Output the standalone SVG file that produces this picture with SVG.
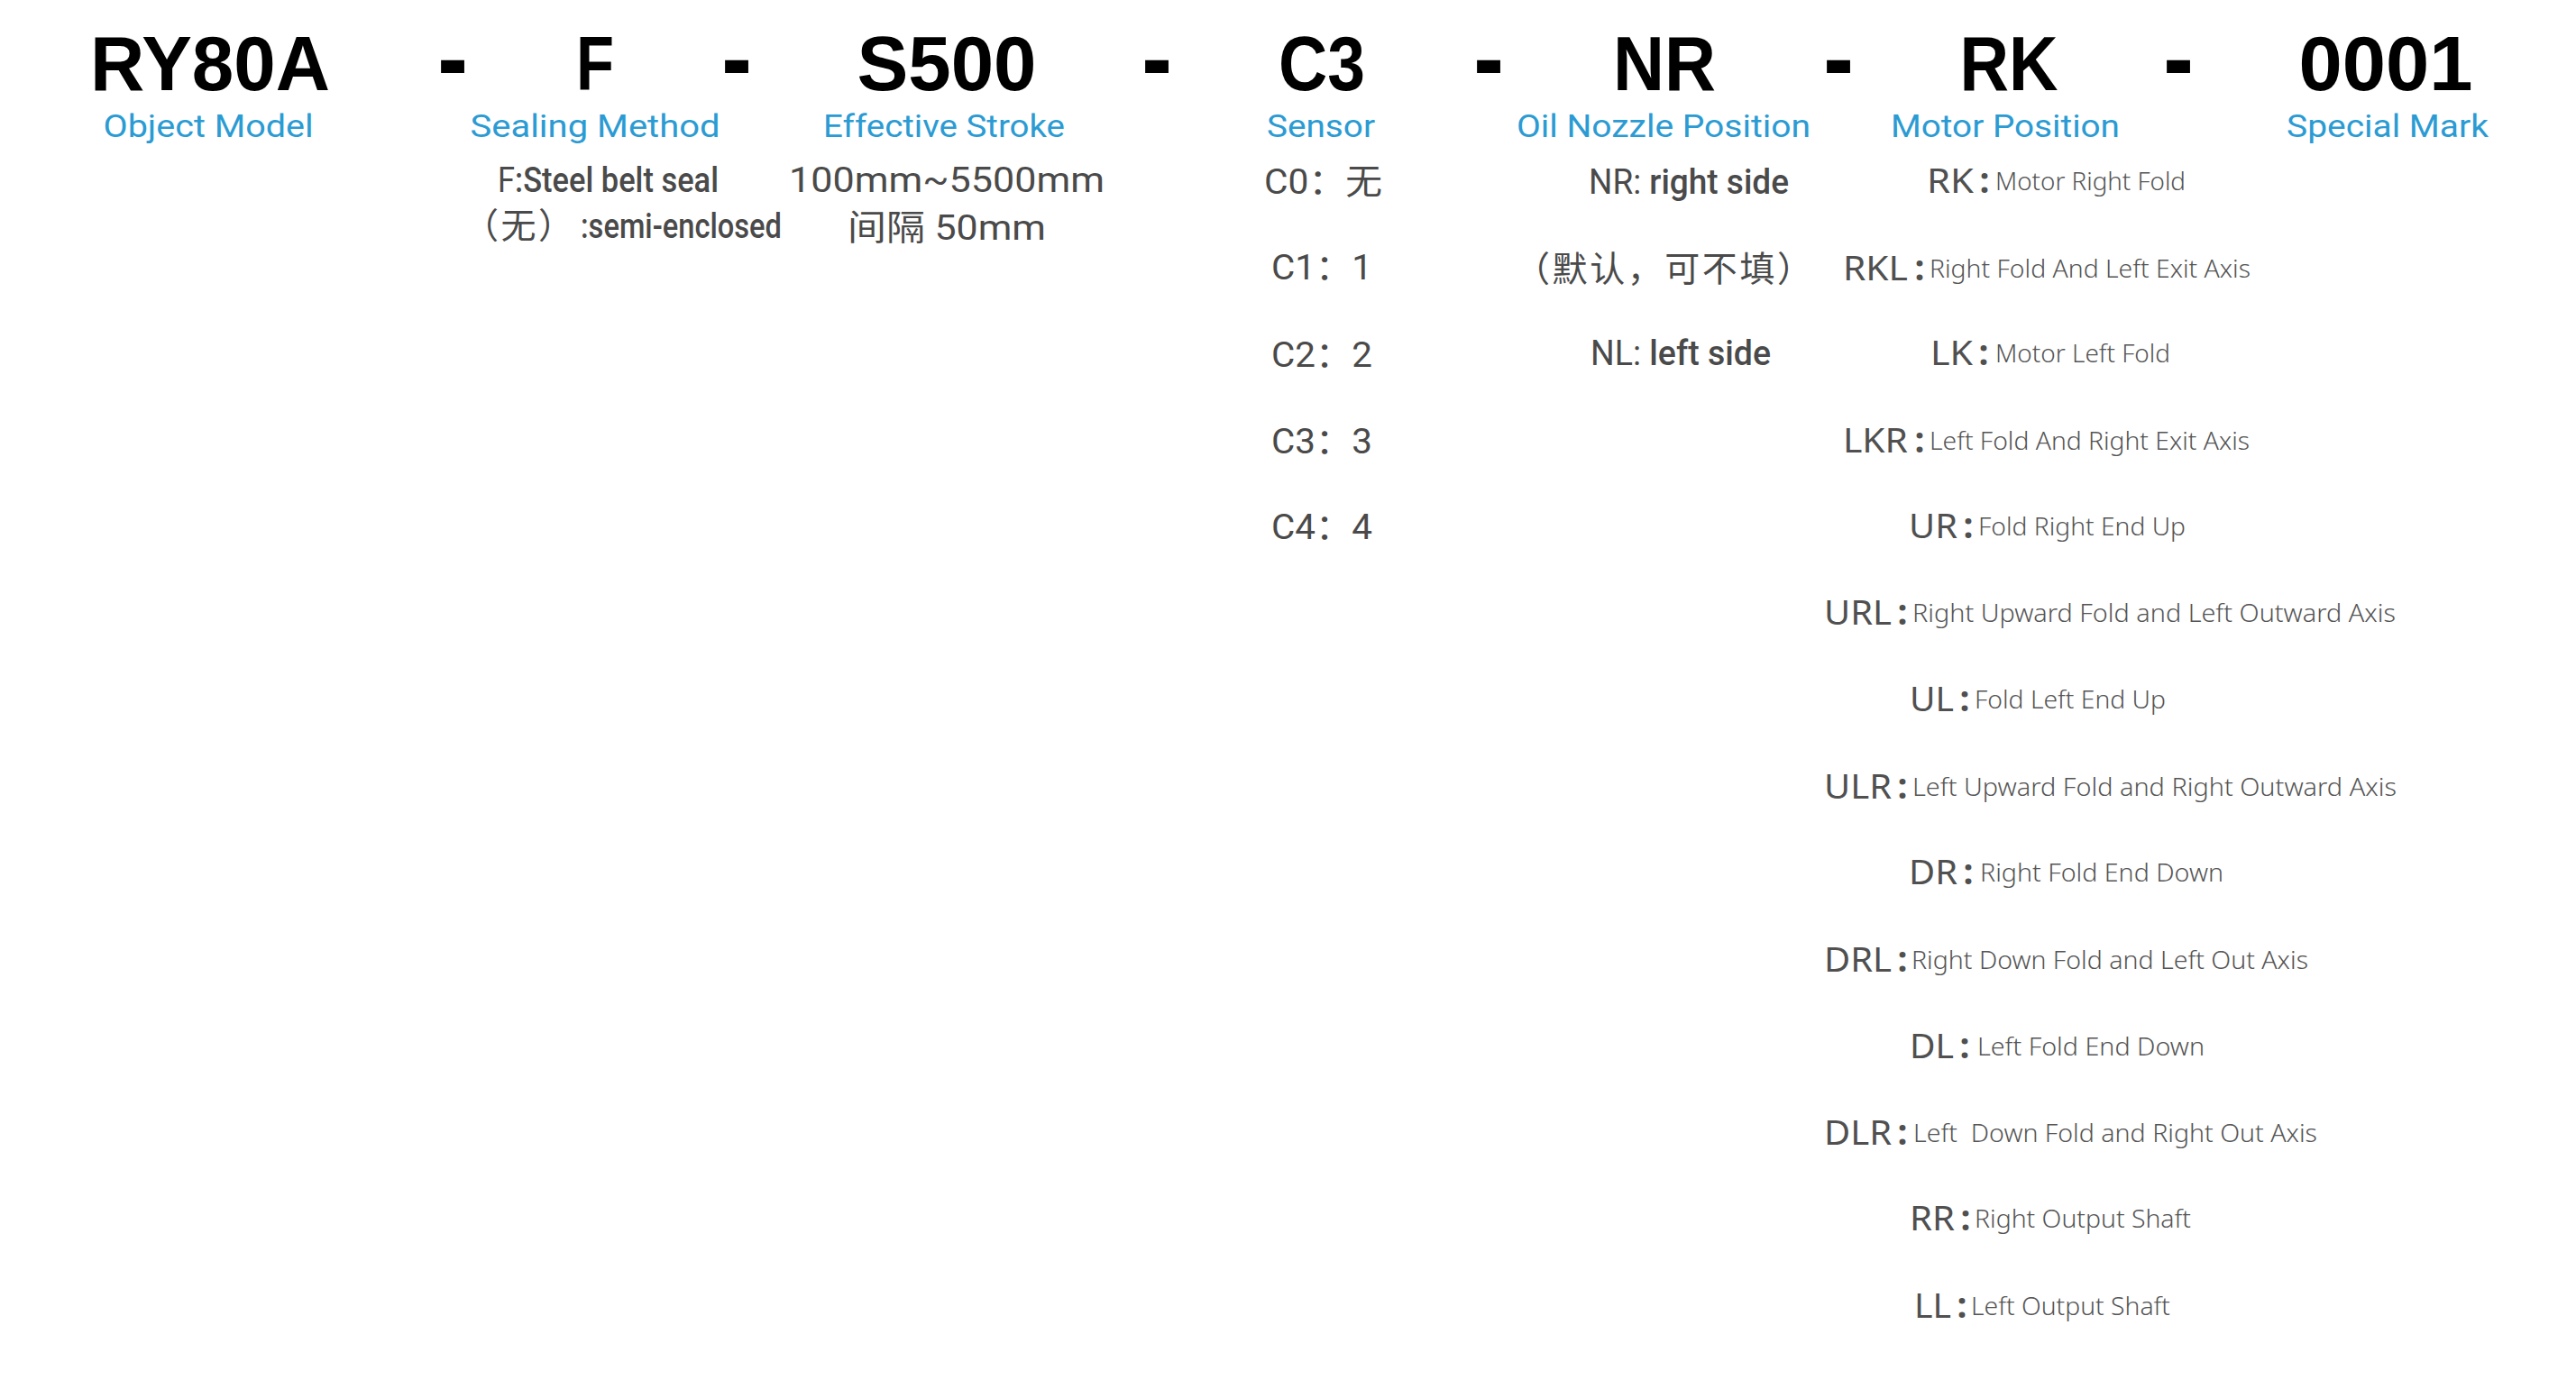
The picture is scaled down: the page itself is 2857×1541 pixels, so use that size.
<svg xmlns="http://www.w3.org/2000/svg" width="2857" height="1541" viewBox="0 0 2857 1541">
<style>
.code{font-family:"Liberation Sans",Arial,sans-serif;font-weight:700;font-size:86px;fill:#000;text-anchor:middle}
.dash{font-family:"Liberation Sans",Arial,sans-serif;font-weight:700;font-size:86px;fill:#000;stroke:#000;stroke-width:4;text-anchor:middle}
.cap{font-family:Roboto,"Noto Sans",sans-serif;font-size:35px;fill:#2b9bd3;text-anchor:middle}
.body{font-family:Roboto,"Noto Sans","Noto Sans CJK SC",sans-serif;font-size:39px;fill:#4a4a4a}
.sb{font-weight:500}
.lab{font-family:"Noto Sans","Noto Sans CJK SC",sans-serif;font-size:39px;fill:#505050}
.col{font-family:"Noto Sans",sans-serif;font-weight:700;font-size:39px;fill:#505050;text-anchor:middle}
.desc{font-family:"Noto Sans",sans-serif;font-weight:300;font-size:27px;fill:#555}
</style>
<rect width="2857" height="1541" fill="#fff"/>

<g id="connectors">
<text class="dash" x="502" y="96">-</text>
<text class="dash" x="817" y="96">-</text>
<text class="dash" x="1283" y="96">-</text>
<text class="dash" x="1651" y="96">-</text>
<text class="dash" x="2039" y="96">-</text>
<text class="dash" x="2416" y="96">-</text>
</g>

<g id="model">
<text class="code" x="233" y="100" textLength="266" lengthAdjust="spacingAndGlyphs">RY80A</text>
<text class="cap" x="231" y="152" textLength="233" lengthAdjust="spacingAndGlyphs">Object Model</text>
</g>

<g id="sealing">
<text class="code" x="660" y="100" textLength="42" lengthAdjust="spacingAndGlyphs">F</text>
<text class="cap" x="660" y="152" textLength="277" lengthAdjust="spacingAndGlyphs">Sealing Method</text>
<text class="body" x="552" y="213" font-size="37" textLength="245" lengthAdjust="spacingAndGlyphs">F<tspan class="sb">:Steel belt seal</tspan></text>
<text class="body" x="514" y="264" font-size="37" textLength="122" lengthAdjust="spacing" font-family="Noto Sans CJK SC, sans-serif">（无）</text>
<text class="body sb" x="644" y="264" font-size="37" textLength="223" lengthAdjust="spacingAndGlyphs">:semi-enclosed</text>
</g>

<g id="stroke">
<text class="code" x="1050" y="100" textLength="199" lengthAdjust="spacingAndGlyphs">S500</text>
<text class="cap" x="1047" y="152" textLength="268" lengthAdjust="spacingAndGlyphs">Effective Stroke</text>
<text class="body" x="875" y="213" textLength="350" lengthAdjust="spacingAndGlyphs">100mm~5500mm</text>
<text class="body" x="940" y="266" textLength="220" lengthAdjust="spacingAndGlyphs">间隔 50mm</text>
</g>

<g id="sensor">
<text class="code" x="1466" y="100" textLength="96" lengthAdjust="spacingAndGlyphs">C3</text>
<text class="cap" x="1465" y="152" textLength="120" lengthAdjust="spacingAndGlyphs">Sensor</text>
<text class="body" x="1402" y="215" font-size="42" textLength="131" lengthAdjust="spacingAndGlyphs">C0：无</text>
<text class="body" x="1410" y="310" font-size="42" textLength="112" lengthAdjust="spacingAndGlyphs">C1：1</text>
<text class="body" x="1410" y="407" font-size="42" textLength="112" lengthAdjust="spacingAndGlyphs">C2：2</text>
<text class="body" x="1410" y="503" font-size="42" textLength="112" lengthAdjust="spacingAndGlyphs">C3：3</text>
<text class="body" x="1410" y="598" font-size="42" textLength="112" lengthAdjust="spacingAndGlyphs">C4：4</text>
</g>

<g id="nozzle">
<text class="code" x="1846" y="100" textLength="114" lengthAdjust="spacingAndGlyphs">NR</text>
<text class="cap" x="1845" y="152" textLength="326" lengthAdjust="spacingAndGlyphs">Oil Nozzle Position</text>
<text class="body" x="1762" y="215" font-size="40" textLength="222" lengthAdjust="spacingAndGlyphs">NR: <tspan class="sb">right side</tspan></text>
<text class="body" x="1680" y="312" font-size="40" textLength="330" lengthAdjust="spacing" font-family="Noto Sans CJK SC, sans-serif">（默认，可不填）</text>
<text class="body" x="1764" y="405" font-size="40" textLength="200" lengthAdjust="spacingAndGlyphs">NL: <tspan class="sb">left side</tspan></text>
</g>

<g id="motor">
<text class="code" x="2228" y="100" textLength="109" lengthAdjust="spacingAndGlyphs">RK</text>
<text class="cap" x="2224" y="152" textLength="254" lengthAdjust="spacingAndGlyphs">Motor Position</text>

<text class="lab" x="2137" y="214" textLength="52" lengthAdjust="spacingAndGlyphs">RK</text>
<text class="col" x="2201" y="214">:</text>
<text class="desc" x="2213" y="211" textLength="211" lengthAdjust="spacingAndGlyphs">Motor Right Fold</text>

<text class="lab" x="2044" y="311" textLength="72" lengthAdjust="spacingAndGlyphs">RKL</text>
<text class="col" x="2129" y="311">:</text>
<text class="desc" x="2140" y="308" textLength="356" lengthAdjust="spacingAndGlyphs">Right Fold And Left Exit Axis</text>

<text class="lab" x="2141" y="405" textLength="47" lengthAdjust="spacingAndGlyphs">LK</text>
<text class="col" x="2200" y="405">:</text>
<text class="desc" x="2213" y="402" textLength="194" lengthAdjust="spacingAndGlyphs">Motor Left Fold</text>

<text class="lab" x="2044" y="502" textLength="72" lengthAdjust="spacingAndGlyphs">LKR</text>
<text class="col" x="2129" y="502">:</text>
<text class="desc" x="2140" y="499" textLength="355" lengthAdjust="spacingAndGlyphs">Left Fold And Right Exit Axis</text>

<text class="lab" x="2117" y="597" textLength="54" lengthAdjust="spacingAndGlyphs">UR</text>
<text class="col" x="2183" y="597">:</text>
<text class="desc" x="2194" y="594" textLength="230" lengthAdjust="spacingAndGlyphs">Fold Right End Up</text>

<text class="lab" x="2023" y="693" textLength="75" lengthAdjust="spacingAndGlyphs">URL</text>
<text class="col" x="2110" y="693">:</text>
<text class="desc" x="2121" y="690" textLength="536" lengthAdjust="spacingAndGlyphs">Right Upward Fold and Left Outward Axis</text>

<text class="lab" x="2118" y="789" textLength="49" lengthAdjust="spacingAndGlyphs">UL</text>
<text class="col" x="2179" y="789">:</text>
<text class="desc" x="2190" y="786" textLength="212" lengthAdjust="spacingAndGlyphs">Fold Left End Up</text>

<text class="lab" x="2023" y="886" textLength="75" lengthAdjust="spacingAndGlyphs">ULR</text>
<text class="col" x="2110" y="886">:</text>
<text class="desc" x="2121" y="883" textLength="537" lengthAdjust="spacingAndGlyphs">Left Upward Fold and Right Outward Axis</text>

<text class="lab" x="2117" y="981" textLength="54" lengthAdjust="spacingAndGlyphs">DR</text>
<text class="col" x="2183" y="981">:</text>
<text class="desc" x="2196" y="978" textLength="270" lengthAdjust="spacingAndGlyphs">Right Fold End Down</text>

<text class="lab" x="2023" y="1078" textLength="75" lengthAdjust="spacingAndGlyphs">DRL</text>
<text class="col" x="2110" y="1078">:</text>
<text class="desc" x="2120" y="1075" textLength="440" lengthAdjust="spacingAndGlyphs">Right Down Fold and Left Out Axis</text>

<text class="lab" x="2118" y="1174" textLength="49" lengthAdjust="spacingAndGlyphs">DL</text>
<text class="col" x="2179" y="1174">:</text>
<text class="desc" x="2193" y="1171" textLength="252" lengthAdjust="spacingAndGlyphs">Left Fold End Down</text>

<text class="lab" x="2023" y="1270" textLength="75" lengthAdjust="spacingAndGlyphs">DLR</text>
<text class="col" x="2110" y="1270">:</text>
<text class="desc" x="2122" y="1267" textLength="448" lengthAdjust="spacingAndGlyphs" xml:space="preserve">Left  Down Fold and Right Out Axis</text>

<text class="lab" x="2118" y="1365" textLength="50" lengthAdjust="spacingAndGlyphs">RR</text>
<text class="col" x="2180" y="1365">:</text>
<text class="desc" x="2190" y="1362" textLength="240" lengthAdjust="spacingAndGlyphs">Right Output Shaft</text>

<text class="lab" x="2123" y="1462" textLength="41" lengthAdjust="spacingAndGlyphs">LL</text>
<text class="col" x="2176" y="1462">:</text>
<text class="desc" x="2186" y="1459" textLength="221" lengthAdjust="spacingAndGlyphs">Left Output Shaft</text>
</g>

<g id="special">
<text class="code" x="2646" y="100" textLength="193" lengthAdjust="spacingAndGlyphs">0001</text>
<text class="cap" x="2648" y="152" textLength="224" lengthAdjust="spacingAndGlyphs">Special Mark</text>
</g>
</svg>
